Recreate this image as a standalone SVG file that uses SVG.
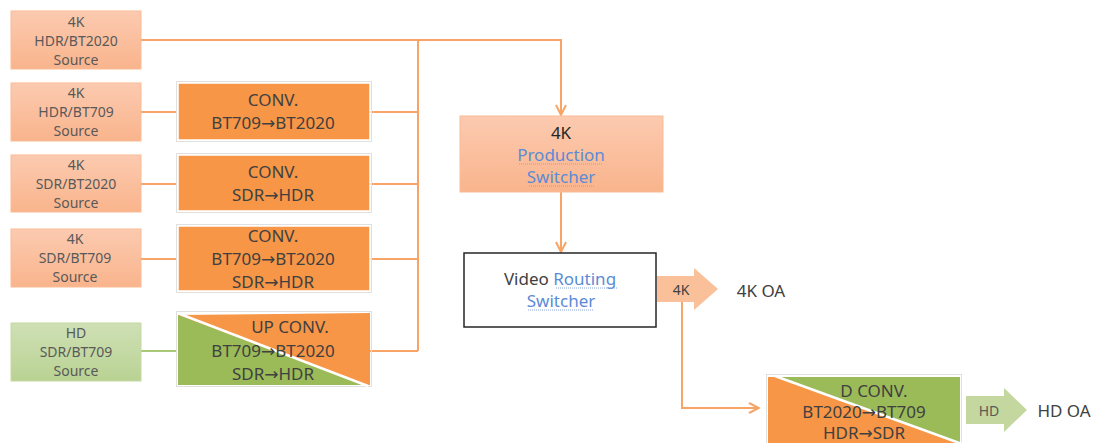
<svg xmlns="http://www.w3.org/2000/svg" width="1101" height="443" viewBox="0 0 1101 443">
<style>
.t{font-family:"Noto Sans","Open Sans",sans-serif;text-anchor:middle}
.src{font-size:14px;fill:#595959}
.cv{font-size:17px;fill:#404040}
.ar{font-family:"DejaVu Sans","Noto Sans",sans-serif}
.lnk{fill:#5b8bd6}
.ln{fill:none;stroke:#f8a466;stroke-width:2}
.lg{fill:none;stroke:#a8c878;stroke-width:2}
.frame{fill:none;stroke:#e0e0e0;stroke-width:1}
</style>
<defs>
<linearGradient id="gp" x1="0" y1="0" x2="0" y2="1"><stop offset="0" stop-color="#fccab0"/><stop offset="1" stop-color="#f9b48c"/></linearGradient>
<linearGradient id="gg" x1="0" y1="0" x2="0" y2="1"><stop offset="0" stop-color="#cfe0b5"/><stop offset="1" stop-color="#b9d293"/></linearGradient>
<marker id="ah" viewBox="0 0 12 12" refX="11" refY="6" markerWidth="12" markerHeight="12" markerUnits="userSpaceOnUse" orient="auto"><path d="M1,1 L11,6 L1,11" fill="none" stroke="#f8a466" stroke-width="2"/></marker>
</defs>

<g id="connectors">
<path class="ln" d="M141,40 H561 V115" marker-end="url(#ah)"/>
<path class="ln" d="M418,40 V351"/>
<path class="ln" d="M141,112 H177"/>
<path class="ln" d="M141,184 H177"/>
<path class="ln" d="M141,259 H177"/>
<path class="lg" d="M141,351 H177"/>
<path class="ln" d="M370,112 H418"/>
<path class="ln" d="M370,184 H418"/>
<path class="ln" d="M370,259 H418"/>
<path class="ln" d="M370,351 H418"/>
<path class="ln" d="M561,192 V252" marker-end="url(#ah)"/>
<path class="ln" d="M682,302 V408 H759" marker-end="url(#ah)"/>
</g>

<g id="src1"><rect x="11" y="11" width="130" height="58" fill="url(#gp)" stroke="#f9bb95" stroke-width="1"/>
<text class="t src" x="76" y="27">4K</text><text class="t src" x="76" y="46">HDR/BT2020</text><text class="t src" x="76" y="65">Source</text></g>
<g id="src2"><rect x="11" y="83" width="130" height="58" fill="url(#gp)" stroke="#f9bb95" stroke-width="1"/>
<text class="t src" x="76" y="98">4K</text><text class="t src" x="76" y="117">HDR/BT709</text><text class="t src" x="76" y="136">Source</text></g>
<g id="src3"><rect x="11" y="155" width="130" height="57" fill="url(#gp)" stroke="#f9bb95" stroke-width="1"/>
<text class="t src" x="76" y="170">4K</text><text class="t src" x="76" y="189">SDR/BT2020</text><text class="t src" x="76" y="208">Source</text></g>
<g id="src4"><rect x="11" y="229" width="130" height="58" fill="url(#gp)" stroke="#f9bb95" stroke-width="1"/>
<text class="t src" x="75" y="244">4K</text><text class="t src" x="75" y="263">SDR/BT709</text><text class="t src" x="75" y="282">Source</text></g>
<g id="src5"><rect x="11" y="323" width="130" height="58" fill="url(#gg)" stroke="#c3d9a3" stroke-width="1"/>
<text class="t src" x="76" y="338">HD</text><text class="t src" x="76" y="357">SDR/BT709</text><text class="t src" x="76" y="376">Source</text></g>

<g id="conv1"><rect x="176.5" y="81.5" width="195" height="60" class="frame"/><rect x="178" y="83" width="192" height="57" fill="#f79646" stroke="#ffffff" stroke-width="1.5"/>
<text class="t cv" x="273" y="106">CONV.</text><text class="t cv" x="273" y="129">BT709<tspan class="ar">→</tspan>BT2020</text></g>
<g id="conv2"><rect x="176.5" y="153.5" width="195" height="59" class="frame"/><rect x="178" y="155" width="192" height="56" fill="#f79646" stroke="#ffffff" stroke-width="1.5"/>
<text class="t cv" x="273" y="178">CONV.</text><text class="t cv" x="273" y="201">SDR<tspan class="ar">→</tspan>HDR</text></g>
<g id="conv3"><rect x="176.5" y="224.5" width="195" height="68" class="frame"/><rect x="178" y="226" width="192" height="65" fill="#f79646" stroke="#ffffff" stroke-width="1.5"/>
<text class="t cv" x="273" y="242">CONV.</text><text class="t cv" x="273" y="265">BT709<tspan class="ar">→</tspan>BT2020</text><text class="t cv" x="273" y="288">SDR<tspan class="ar">→</tspan>HDR</text></g>
<g id="upconv"><rect x="176.5" y="311.5" width="195" height="75" class="frame"/>
<polygon points="178,315 370,313 370,385 178,385" fill="#f79646"/>
<polygon points="178,315 178,385 365,385" fill="#9bbb59"/>
<line x1="180" y1="314" x2="368" y2="386" stroke="#ffffff" stroke-width="2.5"/>
<text class="t cv" x="290" y="333">UP CONV.</text><text class="t cv" x="273" y="357">BT709<tspan class="ar">→</tspan>BT2020</text><text class="t cv" x="273" y="380">SDR<tspan class="ar">→</tspan>HDR</text></g>

<g id="prod"><rect x="460" y="116" width="203" height="76" fill="url(#gp)" stroke="#f9bb95" stroke-width="1"/>
<text class="t cv" x="561" y="139" style="fill:#262626">4K</text>
<text class="t cv lnk" x="561" y="161">Production</text><text class="t cv lnk" x="561" y="183">Switcher</text>
<line x1="519" y1="164" x2="603" y2="164" stroke="#8aa8dc" stroke-width="1" stroke-dasharray="1,1"/>
<line x1="529" y1="186" x2="594" y2="186" stroke="#8aa8dc" stroke-width="1" stroke-dasharray="1,1"/></g>

<g id="router"><rect x="464" y="253" width="192" height="74" fill="#ffffff" stroke="#262626" stroke-width="1.5"/>
<text class="t cv" x="560" y="285"><tspan style="fill:#404040">Video </tspan><tspan class="lnk">Routing</tspan></text>
<text class="t cv lnk" x="561" y="307">Switcher</text>
<line x1="556" y1="288" x2="617" y2="288" stroke="#8aa8dc" stroke-width="1" stroke-dasharray="1,1"/>
<line x1="528" y1="310" x2="594" y2="310" stroke="#8aa8dc" stroke-width="1" stroke-dasharray="1,1"/></g>

<g id="oa4k"><polygon points="657,276 694,276 694,268 718,289 694,310 694,302 657,302" fill="#fac09a"/>
<text class="t" x="681" y="295" style="font-size:14px;fill:#404040">4K</text>
<text class="t" x="761" y="297" style="font-size:17px;fill:#404040">4K OA</text></g>

<g id="dconv"><rect x="766.5" y="374.5" width="195" height="72" class="frame"/>
<polygon points="768,377 960,377 960,443 768,443" fill="#f79646"/>
<polygon points="776,377 960,377 960,443" fill="#9bbb59"/>
<line x1="775" y1="376" x2="962" y2="444" stroke="#ffffff" stroke-width="2.5"/>
<text class="t cv" x="874" y="397">D CONV.</text><text class="t cv" x="864" y="418">BT2020<tspan class="ar">→</tspan>BT709</text><text class="t cv" x="864" y="439">HDR<tspan class="ar">→</tspan>SDR</text></g>

<g id="oahd"><polygon points="966,396 1004,396 1004,388 1027,410 1004,432 1004,424 966,424" fill="#c4d79e"/>
<text class="t" x="989" y="416" style="font-size:14px;fill:#595959">HD</text>
<text class="t" x="1064" y="417" style="font-size:17px;fill:#404040">HD OA</text></g>
</svg>
